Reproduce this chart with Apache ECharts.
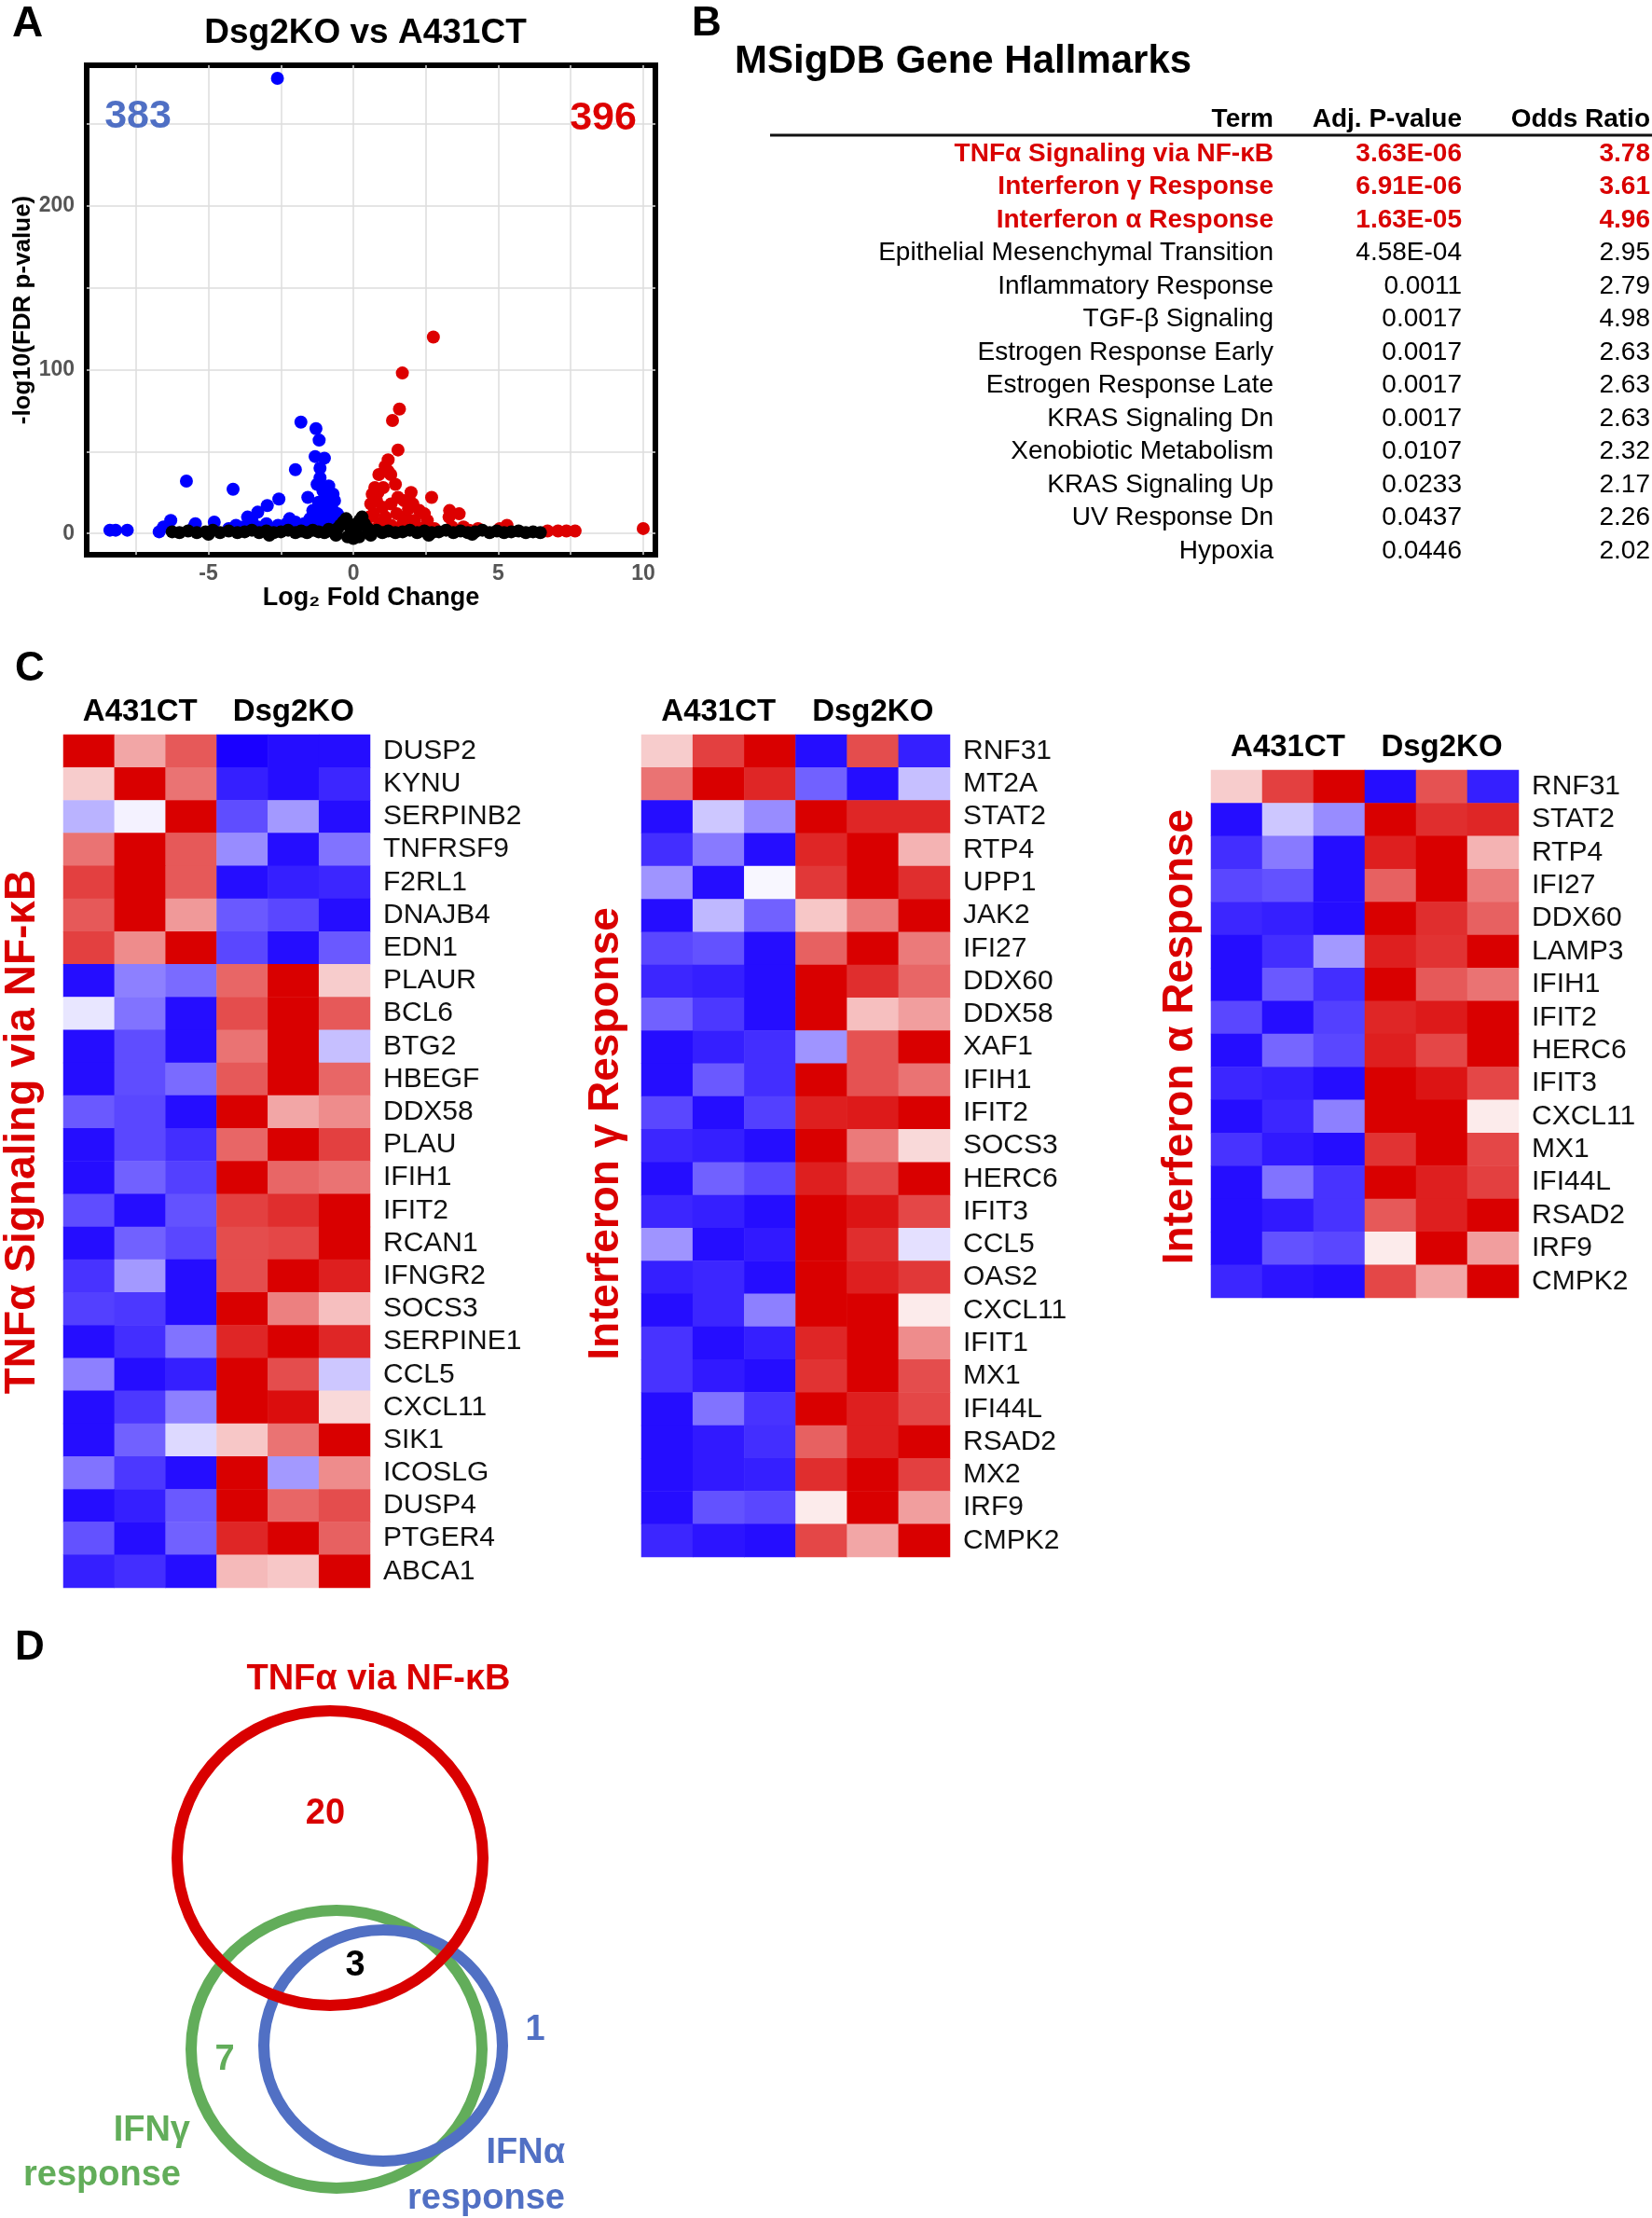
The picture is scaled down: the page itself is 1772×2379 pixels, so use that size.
<!DOCTYPE html>
<html>
<head>
<meta charset="utf-8">
<title>Dsg2KO vs A431CT</title>
<script src="https://cdn.jsdelivr.net/npm/echarts@6/dist/echarts.min.js"></script>
<style>
html, body { margin: 0; padding: 0; background: #fff; }
#main { width: 1772px; height: 2379px; }
</style>
</head>
<body>
<div id="main"></div>
<script>
var FONT = '"Liberation Sans", Arial, Helvetica, sans-serif';
var RED = '#d90000';

// ---- A: volcano, [log2 fold change, -log10 FDR]
var downGenes = [
  [-2.62, 278], [-1.81, 68], [-1.29, 64], [-1.18, 57], [-1.32, 47], [-1.0, 46], [-2.0, 39],
  [-5.76, 32], [-4.15, 27], [-2.57, 21], [-2.97, 17], [-3.3, 13], [-3.65, 10], [-1.57, 22],
  [-1.15, 34], [-0.85, 29], [-1.25, 30], [-1.05, 26], [-0.95, 22], [-1.2, 19], [-0.8, 18],
  [-1.05, 15], [-0.7, 14], [-0.9, 11], [-1.3, 12], [-0.6, 9], [-1.5, 9], [-0.75, 6],
  [-1.1, 7], [-1.7, 6], [-2.0, 7], [-2.3, 6], [-2.6, 5], [-3.0, 6], [-3.3, 4], [-3.8, 4],
  [-4.05, 5], [-4.3, 3], [-4.8, 7], [-5.45, 6], [-5.5, 4], [-6.3, 8], [-6.55, 4], [-6.7, 1],
  [-8.4, 2], [-8.2, 2], [-7.8, 2], [-2.7, 2], [-1.4, 14], [-1.0, 10], [-0.65, 20],
  [-0.95, 24], [-1.15, 40], [-3.5, 8], [-2.2, 9], [-0.55, 12], [-0.7, 24], [-1.35, 5]
];
var upGenes = [
  [2.76, 120], [1.69, 98], [1.59, 76], [1.35, 69], [1.54, 51], [1.2, 45], [1.1, 41],
  [0.88, 36], [1.29, 36], [1.2, 38], [0.74, 28], [1.03, 28], [0.85, 25], [1.99, 25],
  [2.7, 22], [1.54, 22], [1.75, 20], [2.05, 18], [3.32, 14], [3.65, 12], [3.3, 10],
  [2.28, 14], [2.45, 12], [2.55, 8], [0.6, 18], [0.8, 20], [1.0, 16], [1.3, 18],
  [0.55, 10], [0.7, 12], [1.1, 10], [1.5, 12], [1.8, 10], [2.1, 8], [0.45, 5], [0.9, 6],
  [1.3, 5], [1.7, 6], [2.8, 3], [3.4, 4], [3.8, 4], [4.3, 3], [5.3, 5], [5.05, 3],
  [6.7, 1.5], [7.06, 1.5], [7.35, 1.5], [7.65, 1.5], [10.0, 3], [2.2, 4], [4.0, 2],
  [0.65, 24], [1.45, 30], [1.9, 15]
];
var nsGenes = [
  [-6.25, 1], [-6.0, 0.5], [-5.7, 1.5], [-5.4, 0.5], [-5.1, 1], [-4.85, 2], [-4.6, 0.5],
  [-4.3, 1.5], [-4.0, 0.5], [-3.75, 1], [-3.5, 2], [-3.25, 0.5], [-3.0, 1.5], [-2.75, 0.5],
  [-2.5, 1], [-2.25, 2], [-2.0, 0.5], [-1.8, 1.5], [-1.6, 0.5], [-1.4, 2], [-1.2, 1],
  [-1.0, 0.5], [-0.85, 2.5], [-0.7, 1], [-0.55, 3], [-0.45, 5], [-0.35, 7], [-0.25, 9],
  [-0.15, 6], [-0.08, 3], [0, 1], [0.08, 3], [0.15, 5], [0.22, 8], [0.3, 10], [0.38, 6],
  [0.5, 3], [0.65, 1], [0.8, 2], [1.0, 0.5], [1.2, 1.5], [1.45, 0.5], [1.7, 1], [1.95, 2],
  [2.2, 0.5], [2.45, 1.5], [2.7, 0.5], [2.95, 1], [3.2, 2], [3.45, 0.5], [3.7, 1.5],
  [3.95, 0.5], [4.2, 1], [4.45, 2], [4.7, 0.5], [4.95, 1.5], [5.2, 0.5], [5.45, 1],
  [5.7, 1.5], [5.95, 0.5], [6.2, 1], [6.45, 0.5], [-0.2, -2], [0.2, -2], [0, -3],
  [-0.6, -1], [0.6, -1], [-2.9, -1], [2.6, -1], [-5.0, -0.5], [4.1, -0.5]
];
var downCount = 383, upCount = 396;

// ---- B: MSigDB hallmark table
var hallmarkHeader = ['Term', 'Adj. P-value', 'Odds Ratio'];
var hallmarkTerms = [
  'TNFα Signaling via NF-κB', 'Interferon γ Response', 'Interferon α Response',
  'Epithelial Mesenchymal Transition', 'Inflammatory Response', 'TGF-β Signaling',
  'Estrogen Response Early', 'Estrogen Response Late', 'KRAS Signaling Dn',
  'Xenobiotic Metabolism', 'KRAS Signaling Up', 'UV Response Dn', 'Hypoxia'
];
var hallmarkPadj = ['3.63E-06', '6.91E-06', '1.63E-05', '4.58E-04', '0.0011', '0.0017',
  '0.0017', '0.0017', '0.0017', '0.0107', '0.0233', '0.0437', '0.0446'];
var hallmarkOdds = ['3.78', '3.61', '4.96', '2.95', '2.79', '4.98', '2.63', '2.63', '2.63',
  '2.32', '2.17', '2.26', '2.02'];
var highlightRows = 3;

// ---- C: heatmaps (row z-scores, 3 A431CT + 3 Dsg2KO)
var groups = ['A431CT', 'Dsg2KO'];
var samples = ['CT1', 'CT2', 'CT3', 'KO1', 'KO2', 'KO3'];
var tnfGenes = ['DUSP2', 'KYNU', 'SERPINB2', 'TNFRSF9', 'F2RL1', 'DNAJB4', 'EDN1', 'PLAUR',
  'BCL6', 'BTG2', 'HBEGF', 'DDX58', 'PLAU', 'IFIH1', 'IFIT2', 'RCAN1', 'IFNGR2', 'SOCS3',
  'SERPINE1', 'CCL5', 'CXCL11', 'SIK1', 'ICOSLG', 'DUSP4', 'PTGER4', 'ABCA1'];
var tnfZ = [
  [1, 0.35, 0.65, -1, -0.95, -0.95],
  [0.2, 1, 0.55, -0.88, -0.95, -0.85],
  [-0.3, -0.05, 1, -0.7, -0.4, -0.95],
  [0.55, 1, 0.65, -0.45, -0.95, -0.55],
  [0.75, 1, 0.65, -0.95, -0.88, -0.85],
  [0.65, 1, 0.4, -0.65, -0.72, -0.95],
  [0.75, 0.45, 1, -0.72, -0.95, -0.65],
  [-0.95, -0.5, -0.58, 0.6, 1, 0.2],
  [-0.1, -0.55, -0.95, 0.7, 1, 0.65],
  [-0.95, -0.7, -0.95, 0.55, 1, -0.25],
  [-0.95, -0.7, -0.58, 0.65, 1, 0.6],
  [-0.65, -0.72, -0.95, 1, 0.35, 0.45],
  [-0.95, -0.72, -0.82, 0.6, 1, 0.75],
  [-0.95, -0.62, -0.75, 1, 0.6, 0.55],
  [-0.7, -0.95, -0.68, 0.75, 0.82, 1],
  [-0.95, -0.62, -0.72, 0.7, 0.72, 1],
  [-0.8, -0.4, -0.95, 0.7, 1, 0.88],
  [-0.75, -0.78, -0.95, 1, 0.5, 0.25],
  [-0.95, -0.82, -0.55, 0.85, 1, 0.85],
  [-0.5, -0.95, -0.88, 1, 0.7, -0.22],
  [-0.95, -0.78, -0.5, 1, 0.95, 0.15],
  [-0.95, -0.62, -0.15, 0.22, 0.55, 1],
  [-0.55, -0.78, -0.95, 1, -0.4, 0.45],
  [-0.95, -0.88, -0.65, 1, 0.6, 0.7],
  [-0.68, -0.95, -0.62, 0.85, 1, 0.62],
  [-0.88, -0.82, -0.95, 0.27, 0.22, 1]
];
var ifngGenes = ['RNF31', 'MT2A', 'STAT2', 'RTP4', 'UPP1', 'JAK2', 'IFI27', 'DDX60', 'DDX58',
  'XAF1', 'IFIH1', 'IFIT2', 'SOCS3', 'HERC6', 'IFIT3', 'CCL5', 'OAS2', 'CXCL11', 'IFIT1',
  'MX1', 'IFI44L', 'RSAD2', 'MX2', 'IRF9', 'CMPK2'];
var ifngZ = [
  [0.2, 0.75, 1, -0.95, 0.7, -0.88],
  [0.55, 1, 0.85, -0.62, -0.95, -0.25],
  [-0.95, -0.22, -0.45, 1, 0.85, 0.85],
  [-0.82, -0.52, -0.95, 0.85, 1, 0.3],
  [-0.42, -0.95, -0.03, 0.78, 1, 0.82],
  [-0.95, -0.28, -0.62, 0.22, 0.52, 1],
  [-0.72, -0.68, -0.95, 0.62, 1, 0.52],
  [-0.85, -0.88, -0.95, 1, 0.82, 0.6],
  [-0.62, -0.78, -0.95, 1, 0.25, 0.38],
  [-0.95, -0.88, -0.82, -0.42, 0.68, 1],
  [-0.95, -0.65, -0.82, 1, 0.68, 0.55],
  [-0.72, -0.95, -0.75, 0.88, 0.9, 1],
  [-0.85, -0.88, -0.95, 1, 0.52, 0.15],
  [-0.95, -0.62, -0.72, 0.88, 0.72, 1],
  [-0.85, -0.88, -0.95, 1, 0.92, 0.72],
  [-0.42, -0.95, -0.9, 1, 0.82, -0.12],
  [-0.88, -0.85, -0.95, 1, 0.88, 0.78],
  [-0.95, -0.85, -0.5, 1, 1, 0.08],
  [-0.8, -0.95, -0.88, 0.85, 1, 0.45],
  [-0.8, -0.9, -0.95, 0.8, 1, 0.7],
  [-0.95, -0.55, -0.8, 1, 0.88, 0.72],
  [-0.95, -0.9, -0.82, 0.62, 0.88, 1],
  [-0.95, -0.9, -0.88, 0.82, 1, 0.75],
  [-0.95, -0.68, -0.72, 0.08, 1, 0.38],
  [-0.85, -0.92, -0.95, 0.72, 0.35, 1]
];
var ifnaGenes = ['RNF31', 'STAT2', 'RTP4', 'IFI27', 'DDX60', 'LAMP3', 'IFIH1', 'IFIT2',
  'HERC6', 'IFIT3', 'CXCL11', 'MX1', 'IFI44L', 'RSAD2', 'IRF9', 'CMPK2'];
var ifnaZ = [
  [0.2, 0.75, 1, -0.95, 0.68, -0.88],
  [-0.95, -0.22, -0.45, 1, 0.82, 0.85],
  [-0.82, -0.52, -0.95, 0.88, 1, 0.3],
  [-0.72, -0.68, -0.95, 0.62, 1, 0.52],
  [-0.85, -0.88, -0.95, 1, 0.82, 0.62],
  [-0.95, -0.82, -0.4, 0.88, 0.8, 1],
  [-0.95, -0.65, -0.82, 1, 0.65, 0.55],
  [-0.72, -0.95, -0.75, 0.85, 0.9, 1],
  [-0.95, -0.6, -0.72, 0.88, 0.72, 1],
  [-0.85, -0.88, -0.95, 1, 0.92, 0.72],
  [-0.95, -0.85, -0.5, 1, 1, 0.08],
  [-0.8, -0.9, -0.95, 0.8, 1, 0.72],
  [-0.95, -0.55, -0.8, 1, 0.88, 0.75],
  [-0.95, -0.9, -0.8, 0.65, 0.88, 1],
  [-0.95, -0.68, -0.72, 0.08, 1, 0.38],
  [-0.85, -0.92, -0.95, 0.72, 0.35, 1]
];
var heatTitles = ['TNFα Signaling via NF-κB', 'Interferon γ Response', 'Interferon α Response'];

// ---- D: Venn counts
var vennNames = ['TNFα via NF-κB', 'IFNγ', 'IFNα'];
var vennCounts = { tnfOnly: 20, shared: 3, ifngOnly: 7, ifnaOnly: 1 };

function cells(z) {
  var out = [];
  z.forEach(function (row, r) {
    row.forEach(function (v, c) { out.push([c, r, v]); });
  });
  return out;
}

function txt(x, y, s, font, fill, align, valign, rot) {
  return {
    type: 'text', x: x, y: y, rotation: rot || 0, z: 10,
    style: {
      text: s, font: font, fill: fill || '#000',
      textAlign: align || 'left', align: align || 'left',
      textVerticalAlign: valign || 'middle', verticalAlign: valign || 'middle'
    }
  };
}

var myChart = echarts.init(document.getElementById('main'));

var heatGrids = [
  { left: 68, top: 788, width: 329, height: 915 },
  { left: 688, top: 788, width: 331, height: 882 },
  { left: 1299, top: 826, width: 330, height: 566 }
];
var heatSets = [[tnfGenes, tnfZ], [ifngGenes, ifngZ], [ifnaGenes, ifnaZ]];

var grids = [{ left: 93, top: 70, width: 610, height: 525, show: true, borderColor: '#000', borderWidth: 6, backgroundColor: 'transparent' }];
var xAxes = [{
  type: 'value', gridIndex: 0, min: -9.2, max: 10.42,
  axisLine: { show: false },
  axisTick: { show: false, customValues: [-7.5, -5, -2.5, 0, 2.5, 5, 7.5, 10] },
  axisLabel: { customValues: [-5, 0, 5, 10], color: '#555', fontWeight: 'bold', fontSize: 23, margin: 9, fontFamily: FONT },
  splitLine: { show: true, lineStyle: { color: '#dddddd', width: 1.5 } },
  name: 'Log₂ Fold Change', nameLocation: 'middle', nameGap: 32,
  nameTextStyle: { fontSize: 27, fontWeight: 'bold', color: '#000', fontFamily: FONT }
}];
var yAxes = [{
  type: 'value', gridIndex: 0, min: -13, max: 286,
  axisLine: { show: false },
  axisTick: { show: false, customValues: [0, 50, 100, 150, 200, 250] },
  axisLabel: { customValues: [0, 100, 200], color: '#555', fontWeight: 'bold', fontSize: 23, margin: 13, fontFamily: FONT },
  splitLine: { show: true, lineStyle: { color: '#dddddd', width: 1.5 } },
  name: '-log10(FDR p-value)', nameLocation: 'middle', nameGap: 52, nameRotate: 90,
  nameTextStyle: { fontSize: 26, fontWeight: 'bold', color: '#000', fontFamily: FONT }
}];

var series = [
  { type: 'scatter', xAxisIndex: 0, yAxisIndex: 0, data: downGenes, symbolSize: 14, itemStyle: { color: '#0000ff', opacity: 1 }, z: 2 },
  { type: 'scatter', xAxisIndex: 0, yAxisIndex: 0, data: upGenes, symbolSize: 14, itemStyle: { color: '#dd0000', opacity: 1 }, z: 2 },
  { type: 'scatter', xAxisIndex: 0, yAxisIndex: 0, data: nsGenes, symbolSize: 14, itemStyle: { color: '#000', opacity: 1 }, z: 3 }
];

heatGrids.forEach(function (g, i) {
  grids.push(g);
  var gi = i + 1;
  xAxes.push({ type: 'category', gridIndex: gi, data: samples, show: false });
  var cellAxis = xAxes.length - 1;
  xAxes.push({
    type: 'category', gridIndex: gi, data: groups, position: 'top',
    axisLine: { show: false }, axisTick: { show: false }, splitLine: { show: false },
    axisLabel: { color: '#000', fontWeight: 'bold', fontSize: 33, margin: 8, interval: 0, hideOverlap: false, fontFamily: FONT }
  });
  yAxes.push({
    type: 'category', gridIndex: gi, data: heatSets[i][0], inverse: true, position: 'right',
    axisLine: { show: false }, axisTick: { show: false }, splitLine: { show: false },
    axisLabel: { color: '#111', fontSize: 30, margin: 14, interval: 0, fontFamily: FONT }
  });
  series.push({
    type: 'heatmap', xAxisIndex: cellAxis, yAxisIndex: gi, data: cells(heatSets[i][1]),
    itemStyle: { borderWidth: 0 }, emphasis: { disabled: true }
  });
});

// graphic texts and shapes
var graphics = [];
graphics.push(txt(13, 26, 'A', 'bold 46px ' + FONT));
graphics.push(txt(742, 26, 'B', 'bold 44px ' + FONT));
graphics.push(txt(16, 718, 'C', 'bold 44px ' + FONT));
graphics.push(txt(16, 1768, 'D', 'bold 44px ' + FONT));

graphics.push(txt(392, 36, 'Dsg2KO vs A431CT', 'bold 37px ' + FONT, '#000', 'center'));
graphics.push(txt(148, 125, String(downCount), 'bold 43px ' + FONT, '#4f6fc4', 'center'));
graphics.push(txt(647, 127, String(upCount), 'bold 43px ' + FONT, '#dd0000', 'center'));

// table
graphics.push(txt(788, 66, 'MSigDB Gene Hallmarks', 'bold 42px ' + FONT));
var colRight = [1366, 1568, 1770];
hallmarkHeader.forEach(function (h, c) {
  graphics.push(txt(colRight[c], 128, h, 'bold 28px ' + FONT, '#000', 'right'));
});
graphics.push({ type: 'line', shape: { x1: 826, y1: 145, x2: 1772, y2: 145 }, style: { stroke: '#111', lineWidth: 3 } });
hallmarkTerms.forEach(function (t, r) {
  var y = 165 + r * 35.5;
  var hi = r < highlightRows;
  var f = (hi ? 'bold ' : '') + '28px ' + FONT;
  var col = hi ? RED : '#000';
  graphics.push(txt(colRight[0], y, t, f, col, 'right'));
  graphics.push(txt(colRight[1], y, hallmarkPadj[r], f, col, 'right'));
  graphics.push(txt(colRight[2], y, hallmarkOdds[r], f, col, 'right'));
});

// heatmap side titles
graphics.push(txt(24, 1214, heatTitles[0], 'bold 46px ' + FONT, RED, 'center', 'middle', Math.PI / 2));
graphics.push(txt(650, 1216, heatTitles[1], 'bold 46px ' + FONT, RED, 'center', 'middle', Math.PI / 2));
graphics.push(txt(1266, 1112, heatTitles[2], 'bold 46px ' + FONT, RED, 'center', 'middle', Math.PI / 2));

// venn
var GREEN = '#62ad5a', BLUE = '#5170c4';
graphics.push({ type: 'ellipse', shape: { cx: 361, cy: 2198, rx: 156, ry: 149 }, style: { fill: 'none', stroke: GREEN, lineWidth: 12 } });
graphics.push({ type: 'ellipse', shape: { cx: 411, cy: 2194, rx: 128, ry: 124 }, style: { fill: 'none', stroke: BLUE, lineWidth: 12 } });
graphics.push({ type: 'ellipse', shape: { cx: 354, cy: 1993, rx: 164, ry: 158 }, style: { fill: 'none', stroke: RED, lineWidth: 12 } });
graphics.push(txt(406, 1802, vennNames[0], 'bold 38px ' + FONT, RED, 'center'));
graphics.push(txt(349, 1946, String(vennCounts.tnfOnly), 'bold 38px ' + FONT, RED, 'center'));
graphics.push(txt(381, 2109, String(vennCounts.shared), 'bold 38px ' + FONT, '#000', 'center'));
graphics.push(txt(241, 2210, String(vennCounts.ifngOnly), 'bold 38px ' + FONT, GREEN, 'center'));
graphics.push(txt(574, 2178, String(vennCounts.ifnaOnly), 'bold 38px ' + FONT, BLUE, 'center'));
graphics.push(txt(204, 2286, vennNames[1], 'bold 38px ' + FONT, GREEN, 'right'));
graphics.push(txt(194, 2334, 'response', 'bold 38px ' + FONT, GREEN, 'right'));
graphics.push(txt(606, 2310, vennNames[2], 'bold 38px ' + FONT, BLUE, 'right'));
graphics.push(txt(606, 2359, 'response', 'bold 38px ' + FONT, BLUE, 'right'));

var option = {
  backgroundColor: '#fff',
  animation: false,
  textStyle: { fontFamily: FONT },
  grid: grids,
  xAxis: xAxes,
  yAxis: yAxes,
  visualMap: {
    type: 'continuous', show: false, min: -1, max: 1, dimension: 2,
    seriesIndex: [3, 4, 5],
    inRange: { color: ['#1a00ff', '#ffffff', '#d90000'] }
  },
  series: series,
  graphic: graphics
};

myChart.setOption(option);
</script>
</body>
</html>
